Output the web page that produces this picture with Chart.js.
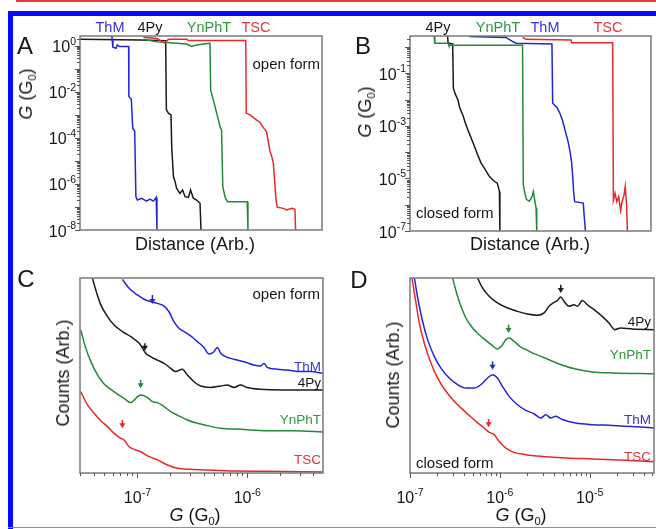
<!DOCTYPE html>
<html>
<head>
<meta charset="utf-8">
<script src="https://cdn.jsdelivr.net/npm/chart.js@4.4.1/dist/chart.umd.min.js"></script>
<style>
  body { margin: 0; background: #fff; }
  #page { position: relative; width: 656px; height: 529px; overflow: hidden;
          font-family: "Liberation Sans", Arial, Helvetica, sans-serif; color: #161616; }
  canvas { position: absolute; left: 0; top: 0; }
  .t { position: absolute; line-height: 1; white-space: nowrap; transform: translate(-50%, -50%); }
  .r { transform: translate(-100%, -50%); }
  .l { transform: translate(0, -50%); }
  .v { transform: translate(-50%, -50%) rotate(-90deg); }
  .bar { position: absolute; }
  sub { font-size: 0.62em; vertical-align: -0.35em; line-height: 0; }
  .blue { color: #3535d8; } .green { color: #2f9640; } .red { color: #e3353a; }
</style>
</head>
<body>
<div id="page">
  <div class="bar" style="left:16px;top:0;width:640px;height:2px;background:#e0393e"></div>
  <div class="bar" style="left:8px;top:11px;width:648px;height:5px;background:#0a0aff"></div>
  <div class="bar" style="left:8px;top:11px;width:5px;height:518px;background:#0a0aff"></div>
  <div class="bar" style="left:8px;top:527px;width:648px;height:1px;background:#8080ff"></div>

  <canvas id="plotA" width="656" height="529"></canvas>
  <canvas id="plotB" width="656" height="529"></canvas>
  <canvas id="plotC" width="656" height="529"></canvas>
  <canvas id="plotD" width="656" height="529"></canvas>

  <!-- panel letters -->
  <div class="t" style="left:25px;top:46px;font-size:24px">A</div>
  <div class="t" style="left:363px;top:46px;font-size:24px">B</div>
  <div class="t" style="left:26px;top:279px;font-size:24px">C</div>
  <div class="t" style="left:359px;top:280px;font-size:24px">D</div>

  <!-- trace names above A and B -->
  <div class="t blue" style="left:110px;top:27px;font-size:14.5px">ThM</div>
  <div class="t" style="left:150px;top:27px;font-size:14.5px">4Py</div>
  <div class="t green" style="left:209px;top:27px;font-size:14.5px">YnPhT</div>
  <div class="t red" style="left:256px;top:27px;font-size:14.5px">TSC</div>
  <div class="t" style="left:438px;top:27px;font-size:14.5px">4Py</div>
  <div class="t green" style="left:498px;top:27px;font-size:14.5px">YnPhT</div>
  <div class="t blue" style="left:545px;top:27px;font-size:14.5px">ThM</div>
  <div class="t red" style="left:608px;top:27px;font-size:14.5px">TSC</div>

  <div class="t r" style="left:320px;top:63px;font-size:15px">open form</div>
  <div class="t l" style="left:416px;top:212px;font-size:15px">closed form</div>
  <div class="t r" style="left:320px;top:293px;font-size:15px">open form</div>
  <div class="t l" style="left:416px;top:462px;font-size:15px">closed form</div>

  <!-- curve names in C and D -->
  <div class="t r blue" style="left:321px;top:367px;font-size:13.5px">ThM</div>
  <div class="t r" style="left:321px;top:383px;font-size:13.5px">4Py</div>
  <div class="t r green" style="left:321px;top:420px;font-size:13.5px">YnPhT</div>
  <div class="t r red" style="left:321px;top:460px;font-size:13.5px">TSC</div>
  <div class="t r" style="left:651px;top:322px;font-size:13.5px">4Py</div>
  <div class="t r green" style="left:651px;top:355px;font-size:13.5px">YnPhT</div>
  <div class="t r blue" style="left:651px;top:420px;font-size:13.5px">ThM</div>
  <div class="t r red" style="left:651px;top:457px;font-size:13.5px">TSC</div>

  <!-- axis titles -->
  <div class="t" style="left:195px;top:244px;font-size:18px">Distance (Arb.)</div>
  <div class="t" style="left:530px;top:244px;font-size:18px">Distance (Arb.)</div>
  <div class="t v" style="left:26px;top:94px;font-size:18px"><i>G</i> (G<sub>0</sub>)</div>
  <div class="t v" style="left:365px;top:112px;font-size:18px"><i>G</i> (G<sub>0</sub>)</div>
  <div class="t v" style="left:63px;top:373px;font-size:18px">Counts (Arb.)</div>
  <div class="t v" style="left:393px;top:375px;font-size:18px">Counts (Arb.)</div>
  <div class="t" style="left:195px;top:515px;font-size:18px"><i>G</i> (G<sub>0</sub>)</div>
  <div class="t" style="left:521px;top:515px;font-size:18px"><i>G</i> (G<sub>0</sub>)</div>
</div>

<script>
var BLUE = "#2424d8", GREEN = "#24883a", RED = "#e82828", BLACK = "#1a1a1a";

// A: open form, single traces, x = distance (arb.), G in G0
var aThmX = [13.2, 13.3, 13.6, 14.9, 15.4, 16.3, 20.1, 20.2, 21.2, 21.8, 22.6, 23.1, 23.7, 25.5, 27.5, 28.9, 30.3, 31.5, 31.8];
var aThmG = [2.7, 1.8, 0.87, 0.79, 1.1, 0.94, 0.94, 6.3e-3, 4.8e-3, 2.6e-4, 2.0e-4, 2.8e-7, 2.0e-7, 2.4e-7, 1.8e-7, 2.2e-7, 1.8e-7, 2.6e-7, 1e-8];
var aPyX = [0, 24.8, 35.4, 35.7, 36.5, 37.6, 37.9, 38.6, 39.3, 39.9, 41.3, 42.4, 43.4, 44.8, 45.7, 46.8, 48.2, 49.6, 50.0];
var aPyG = [1.95, 1.8, 1.7, 1.7e-3, 1.2e-3, 1.0e-3, 4.2e-5, 2.1e-6, 1.26e-6, 6.5e-7, 3.9e-7, 5.5e-7, 2.8e-7, 2.6e-7, 5.5e-7, 2.4e-7, 2.0e-7, 1.45e-7, 1e-8];
var aYnX = [26.2, 31.7, 35.8, 44.1, 46.1, 48.2, 51.0, 53.7, 54.0, 55.8, 57.9, 58.5, 59.0, 59.9, 60.9, 69.1, 69.4];
var aYnG = [1.95, 1.5, 1.4, 1.2, 0.94, 1.1, 1.2, 1.3, 1.2e-2, 2.3e-3, 3.1e-4, 2.2e-4, 7.6e-7, 2.8e-7, 1.7e-7, 1.7e-7, 1e-8];
var aTscX = [26.2, 31.7, 35.1, 36.5, 44.1, 44.8, 68.5, 68.7, 70.2, 71.6, 73.0, 74.4, 76.0, 77.1, 77.9, 78.5, 79.3, 79.9, 80.4, 81.0, 81.5, 84.0, 85.4, 87.5, 88.8, 89.1];
var aTscG = [2.4, 2.1, 1.3, 1.95, 1.95, 1.7, 1.7, 1.2e-3, 1.0e-3, 7.9e-4, 6.0e-4, 4.7e-4, 2.6e-4, 1.9e-4, 5.9e-5, 2.6e-5, 1.5e-5, 7.9e-6, 1.5e-6, 2.0e-7, 9.8e-8, 8.7e-8, 7.4e-8, 8.7e-8, 7.9e-8, 1e-8];

// B: closed form traces
var bPyX = [15.6, 15.8, 17.7, 18.0, 18.8, 19.9, 20.7, 21.9, 23.0, 24.3, 25.7, 26.8, 28.1, 29.5, 31.3, 32.9, 34.6, 36.2, 37.1, 37.3, 37.3];
var bPyG = [2.6, 1.4, 1.3, 2.7e-2, 1.6e-2, 9.6e-3, 4.6e-3, 2.6e-3, 1.25e-3, 6.0e-4, 2.9e-4, 1.6e-4, 7.7e-5, 3.8e-5, 2.1e-5, 1.2e-5, 8.3e-6, 6.6e-6, 3.2e-6, 1.5e-6, 1e-7];
var bYnX = [10.0, 10.3, 15.8, 16.1, 46.7, 47.0, 47.7, 48.3, 49.5, 50.5, 51.2, 51.7, 52.3, 52.6];
var bYnG = [2.6, 1.38, 1.38, 1.15, 1.15, 5.7e-6, 2.7e-6, 1.6e-6, 1.35e-6, 1.9e-6, 3.2e-6, 1.6e-6, 7.4e-7, 1e-7];
var bThmX = [24.6, 39.8, 42.6, 44.0, 58.9, 59.2, 60.9, 62.2, 63.3, 64.5, 65.6, 66.4, 67.1, 67.5, 67.9, 68.3, 71.9, 72.3, 72.8];
var bThmG = [2.5, 2.3, 1.6, 1.38, 1.3, 7.2e-3, 5.1e-3, 3.0e-3, 1.6e-3, 6.0e-4, 2.5e-4, 1.05e-4, 3.8e-5, 1.2e-5, 3.2e-6, 1.3e-6, 1.15e-6, 3.5e-7, 1e-7];
var bTscX = [46.7, 48.1, 66.8, 67.1, 84.1, 84.4, 85.1, 85.8, 86.6, 87.4, 88.0, 88.8, 89.3, 89.9, 90.2];
var bTscG = [2.3, 1.95, 1.85, 1.45, 1.45, 1.5e-6, 2.7e-6, 1.3e-6, 2.0e-6, 6.0e-7, 1.3e-6, 2.3e-6, 4.9e-6, 8.5e-7, 1e-7];

// C: open form histograms (counts arb., curves offset)
var cThmG = [7.3e-8, 8.4e-8, 1.0e-7, 1.15e-7, 1.32e-7, 1.52e-7, 1.75e-7, 1.94e-7, 2.15e-7, 2.39e-7, 2.66e-7, 3.05e-7, 3.51e-7, 4.04e-7, 4.48e-7, 4.98e-7, 5.34e-7, 5.73e-7, 6.36e-7, 7.57e-7, 9.33e-7, 1.15e-6, 1.32e-6, 1.42e-6, 1.52e-6, 1.88e-6, 2.31e-6, 3.05e-6, 3.77e-6, 4.98e-6];
var cThmN = [99.3, 94.7, 91.3, 89.1, 87.9, 87.0, 85.6, 82.7, 77.6, 74.2, 72.5, 70.3, 67.4, 64.4, 61.0, 62.2, 64.4, 61.4, 59.7, 58.3, 57.1, 55.4, 54.9, 56.2, 54.2, 53.2, 52.8, 52.0, 52.0, 51.1];
var cPyG = [3.9e-8, 4.18e-8, 4.64e-8, 5.34e-8, 6.14e-8, 7.31e-8, 8.7e-8, 1.04e-7, 1.19e-7, 1.32e-7, 1.52e-7, 1.75e-7, 2.01e-7, 2.23e-7, 2.56e-7, 2.85e-7, 3.27e-7, 3.77e-7, 4.64e-7, 5.73e-7, 6.58e-7, 7.57e-7, 8.7e-7, 1.0e-6, 1.32e-6, 2.15e-6, 4.98e-6];
var cPyN = [99.8, 93.8, 86.2, 80.2, 75.9, 72.5, 69.9, 66.5, 61.4, 59.7, 57.9, 56.2, 53.7, 52.0, 53.2, 50.3, 46.8, 44.6, 43.9, 44.6, 45.1, 43.9, 45.1, 43.8, 42.9, 42.6, 42.6];
var cYnG = [3.05e-8, 3.39e-8, 3.77e-8, 4.33e-8, 4.98e-8, 5.73e-8, 6.58e-8, 7.57e-8, 8.7e-8, 9.66e-8, 1.07e-7, 1.23e-7, 1.37e-7, 1.52e-7, 1.75e-7, 2.01e-7, 2.31e-7, 2.85e-7, 3.51e-7, 4.33e-7, 5.73e-7, 8.7e-7, 1.52e-6, 2.66e-6, 4.98e-6];
var cYnN = [73.3, 63.9, 57.1, 50.3, 45.6, 42.9, 40.5, 38.3, 36.1, 38.3, 40.0, 38.8, 36.6, 36.1, 34.0, 31.5, 29.7, 27.2, 25.5, 24.3, 22.9, 22.4, 21.7, 21.7, 21.0];
var cTscG = [3.05e-8, 3.51e-8, 4.04e-8, 4.64e-8, 5.34e-8, 6.14e-8, 7.05e-8, 7.57e-8, 8.4e-8, 9.33e-8, 1.07e-7, 1.28e-7, 1.52e-7, 1.88e-7, 2.31e-7, 3.05e-7, 4.33e-7, 7.57e-7, 1.52e-6, 4.98e-6];
var cTscN = [41.7, 34.9, 30.6, 26.8, 23.8, 20.3, 17.8, 16.9, 13.5, 12.1, 10.9, 8.4, 6.7, 4.1, 2.4, 1.9, 1.5, 1.0, 0.9, 0.5];

// D: closed form histograms
var dPyG = [5.65e-7, 6.41e-7, 7.6e-7, 9.4e-7, 1.22e-6, 1.57e-6, 2.03e-6, 2.62e-6, 3.11e-6, 3.53e-6, 4.02e-6, 4.38e-6, 4.77e-6, 5.19e-6, 5.89e-6, 6.7e-6, 7.3e-6, 8.3e-6, 9.4e-6, 1.12e-5, 1.38e-5, 1.64e-5, 1.91e-5, 2.21e-5, 2.98e-5, 5.2e-5];
var dPyN = [100, 94.9, 90.6, 87.2, 84.6, 82.9, 81.5, 80.9, 82.1, 85.5, 87.5, 88.5, 90.3, 88.0, 85.5, 86.3, 85.5, 88.5, 86.3, 83.8, 80.3, 76.9, 73.5, 74.4, 73.8, 73.5];
var dYnG = [2.98e-7, 3.3e-7, 3.69e-7, 4.19e-7, 4.97e-7, 5.89e-7, 6.98e-7, 8.3e-7, 9.4e-7, 1.05e-6, 1.17e-6, 1.27e-6, 1.44e-6, 1.71e-6, 2.03e-6, 2.4e-6, 2.98e-6, 3.84e-6, 5.19e-6, 6.98e-6, 1.07e-5, 1.79e-5, 5.2e-5];
var dYnN = [100, 92.3, 85.5, 79.5, 74.4, 70.9, 68.0, 65.3, 63.6, 65.3, 68.4, 69.2, 67.5, 64.6, 62.9, 61.2, 59.5, 57.3, 55.0, 53.3, 51.8, 51.3, 50.9];
var dThmG = [1.12e-7, 1.22e-7, 1.38e-7, 1.57e-7, 1.86e-7, 2.21e-7, 2.73e-7, 3.39e-7, 4.19e-7, 5.19e-7, 6.15e-7, 7.3e-7, 8.3e-7, 9.4e-7, 1.07e-6, 1.27e-6, 1.57e-6, 1.95e-6, 2.4e-6, 2.86e-6, 3.25e-6, 3.69e-6, 4.19e-6, 4.97e-6, 6.98e-6, 1.07e-5, 1.79e-5, 5.2e-5];
var dThmN = [100, 89.7, 77.8, 68.4, 59.8, 53.8, 48.7, 45.3, 43.6, 43.6, 45.3, 48.7, 50.4, 48.7, 44.4, 39.3, 35.0, 32.1, 30.4, 28.2, 29.9, 28.2, 29.1, 27.4, 25.6, 24.8, 24.4, 23.1];
var dTscG = [1.05e-7, 1.15e-7, 1.27e-7, 1.44e-7, 1.71e-7, 2.03e-7, 2.51e-7, 3.24e-7, 4.19e-7, 5.41e-7, 6.7e-7, 7.6e-7, 8.65e-7, 9.84e-7, 1.17e-6, 1.44e-6, 1.95e-6, 2.98e-6, 5.41e-6, 1.07e-5, 2.51e-5, 5.2e-5];
var dTscN = [100, 88.9, 76.9, 66.7, 56.4, 48.7, 41.9, 35.9, 31.1, 26.5, 23.1, 20.9, 19.7, 16.2, 12.8, 10.6, 9.4, 8.5, 7.7, 7.2, 6.5, 5.8];

// tick labels (powers of ten)
var aYLabelExps = [0, -2, -4, -6, -8];
var bYLabelExps = [-1, -3, -5, -7];
var cXLabelExps = [-7, -6];
var dXLabelExps = [-7, -6, -5];

// arrows marking the peaks
var cArrowX = [1.37e-7, 1.17e-7, 1.07e-7, 7.3e-8];
var cArrowTop = [91.3, 66.5, 47.7, 27.2];
var cArrowTip = [86.7, 62.7, 43.4, 22.9];
var cArrowColors = [BLUE, BLACK, GREEN, RED];
var dArrowX = [4.77e-6, 1.25e-6, 8.3e-7, 7.5e-7];
var dArrowTop = [96.6, 76.1, 57.3, 27.7];
var dArrowTip = [92.3, 71.8, 53.0, 23.4];
var dArrowColors = [BLACK, GREEN, BLUE, RED];

function pts(xs, ys) {
    return xs.map((x, i) => ({x: x, y: ys[i]}));
}

// 1..9 x 10^n tick values inside [min, max]
function logTickValues(min, max) {
    var out = [];
    for (var e = Math.floor(Math.log10(min)); e <= Math.ceil(Math.log10(max)); e++) {
        for (var m = 1; m < 10; m++) {
            var v = m * Math.pow(10, e);
            if (v >= min * 0.999 && v <= max * 1.001) out.push({v: v, major: m == 1});
        }
    }
    return out;
}

var FONT = '"Liberation Sans", Arial, sans-serif';

var axesPlugin = {
    id: "axes",
    afterDraw(chart, args, o) {
        var ctx = chart.ctx, a = chart.chartArea;
        ctx.save();
        ctx.strokeStyle = "#7a7a7a";
        ctx.lineWidth = 1.5;
        ctx.strokeRect(a.left, a.top, a.right - a.left, a.bottom - a.top);

        var s = chart.scales[o.axis];
        ctx.strokeStyle = "#555";
        ctx.lineWidth = 1;
        ctx.beginPath();
        logTickValues(s.min, s.max).forEach(t => {
            var p = Math.round(s.getPixelForValue(t.v)) + 0.5;
            var len = t.major ? 5 : 3;
            if (o.axis == "y") {
                ctx.moveTo(a.left - len, p); ctx.lineTo(a.left, p);
            } else {
                ctx.moveTo(p, a.bottom); ctx.lineTo(p, a.bottom + len);
            }
        });
        ctx.stroke();

        ctx.fillStyle = "#161616";
        ctx.textBaseline = "alphabetic";
        ctx.textAlign = "left";
        o.labels.forEach(e => {
            var p = s.getPixelForValue(Math.pow(10, e));
            var sup = e == 0 ? "0" : "-" + Math.abs(e);
            ctx.font = "16px " + FONT;
            var wb = ctx.measureText("10").width;
            ctx.font = "10.5px " + FONT;
            var we = ctx.measureText(sup).width;
            var x0, base;
            if (o.axis == "y") {
                x0 = a.left - 4 - we - wb;
                base = p + 6.5;
            } else {
                x0 = p - (wb + we) / 2;
                base = a.bottom + 30;
            }
            ctx.font = "16px " + FONT;
            ctx.fillText("10", x0, base);
            ctx.font = "10.5px " + FONT;
            ctx.fillText(sup, x0 + wb, base - 7.5);
        });

        if (o.arrows) {
            var xs = chart.scales.x, ys = chart.scales.y;
            o.arrows.x.forEach((v, i) => {
                var px = xs.getPixelForValue(v);
                var y0 = ys.getPixelForValue(o.arrows.top[i]);
                var y1 = ys.getPixelForValue(o.arrows.tip[i]);
                ctx.strokeStyle = ctx.fillStyle = o.arrows.colors[i];
                ctx.lineWidth = 1.5;
                ctx.beginPath();
                ctx.moveTo(px, y0); ctx.lineTo(px, y1 - 4);
                ctx.stroke();
                ctx.beginPath();
                ctx.moveTo(px - 3, y1 - 5); ctx.lineTo(px + 3, y1 - 5); ctx.lineTo(px, y1);
                ctx.closePath();
                ctx.fill();
            });
        }
        ctx.restore();
    }
};

function line(data, color, smooth) {
    return {
        data: data,
        borderColor: color,
        borderWidth: 1.5,
        fill: false,
        pointRadius: 0,
        tension: 0,
        cubicInterpolationMode: smooth ? "monotone" : "default",
    };
}

// box = plot area in page pixels: [left, top, right, bottom]
function makeChart(id, box, xScale, yScale, datasets, deco) {
    return new Chart(document.getElementById(id), {
        type: "line",
        data: {datasets: datasets},
        options: {
            responsive: false,
            animation: false,
            events: [],
            layout: {padding: {left: box[0], top: box[1], right: 656 - box[2], bottom: 529 - box[3]}},
            scales: {x: xScale, y: yScale},
            plugins: {legend: {display: false}, tooltip: {enabled: false}, axes: deco},
        },
        plugins: [axesPlugin],
    });
}

function linAxis(min, max) {
    return {type: "linear", display: false, min: min, max: max};
}
function logAxis(min, max) {
    return {type: "logarithmic", display: false, min: min, max: max};
}

window.addEventListener("load", function() {
    makeChart("plotA", [80, 36, 322, 230], linAxis(0, 100), logAxis(1e-8, 2.7), [
        line(pts(aTscX, aTscG), RED),
        line(pts(aYnX, aYnG), GREEN),
        line(pts(aThmX, aThmG), BLUE),
        line(pts(aPyX, aPyG), BLACK),
    ], {axis: "y", labels: aYLabelExps});

    makeChart("plotB", [410, 36, 651, 231], linAxis(0, 100), logAxis(1e-7, 2.6), [
        line(pts(bTscX, bTscG), RED),
        line(pts(bThmX, bThmG), BLUE),
        line(pts(bYnX, bYnG), GREEN),
        line(pts(bPyX, bPyG), BLACK),
    ], {axis: "y", labels: bYLabelExps});

    makeChart("plotC", [80, 278, 323, 473], logAxis(3.1e-8, 4.9e-6), linAxis(0, 100), [
        line(pts(cThmG, cThmN), BLUE, true),
        line(pts(cPyG, cPyN), BLACK, true),
        line(pts(cYnG, cYnN), GREEN, true),
        line(pts(cTscG, cTscN), RED, true),
    ], {axis: "x", labels: cXLabelExps,
        arrows: {x: cArrowX, top: cArrowTop, tip: cArrowTip, colors: cArrowColors}});

    makeChart("plotD", [410, 278, 654, 473], logAxis(1e-7, 5.2e-5), linAxis(0, 100), [
        line(pts(dPyG, dPyN), BLACK, true),
        line(pts(dYnG, dYnN), GREEN, true),
        line(pts(dThmG, dThmN), BLUE, true),
        line(pts(dTscG, dTscN), RED, true),
    ], {axis: "x", labels: dXLabelExps,
        arrows: {x: dArrowX, top: dArrowTop, tip: dArrowTip, colors: dArrowColors}});
});
</script>
</body>
</html>
